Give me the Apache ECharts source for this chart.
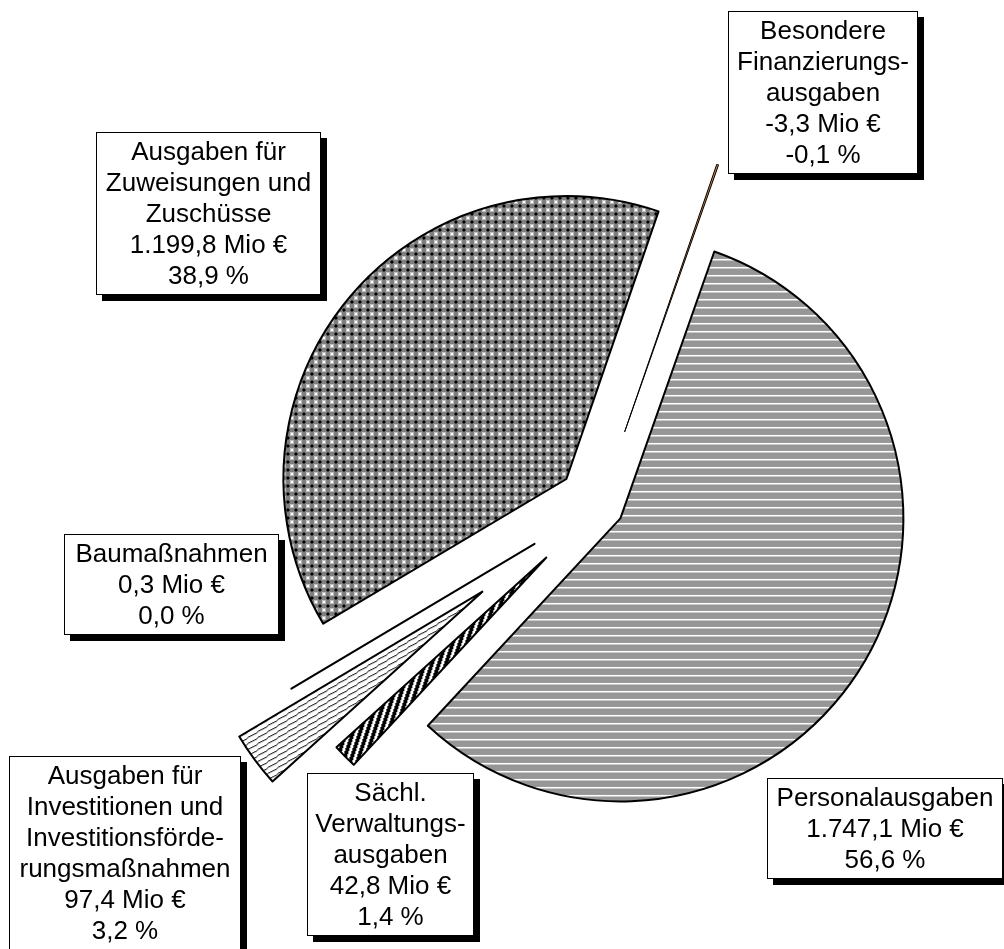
<!DOCTYPE html>
<html><head><meta charset="utf-8">
<script src="https://cdn.jsdelivr.net/npm/echarts/dist/echarts.min.js"></script>
<style>html,body{margin:0;padding:0;background:#fff}#c{width:1004px;height:949px}</style>
</head><body><div id="c"></div>
<script>
// ---- data ----
const categories = [
  'Besondere\nFinanzierungs-\nausgaben',
  'Personalausgaben',
  'Sächl.\nVerwaltungs-\nausgaben',
  'Ausgaben für\nInvestitionen und\nInvestitionsförde-\nrungsmaßnahmen',
  'Baumaßnahmen',
  'Ausgaben für\nZuweisungen und\nZuschüsse'
];
const valuesMio = [-3.3, 1747.1, 42.8, 97.4, 0.3, 1199.8];

// ---- layout (not data) ----
const explode = [78, 25, 74, 145, 75, 42];
const boxes = [
  {left: 729, top: 12,  w: 188},
  {left: 768, top: 779, w: 234},
  {left: 308, top: 774, w: 165},
  {left: 10,  top: 757, w: 230},
  {left: 65,  top: 535, w: 213},
  {left: 97,  top: 133, w: 223}
];

function tile(w, h, draw) {
  const c = document.createElement('canvas');
  c.width = w; c.height = h;
  const ctx = c.getContext('2d');
  draw(ctx);
  return c;
}
const patPersonal = tile(8, 8, ctx => {
  ctx.fillStyle = '#969696'; ctx.fillRect(0, 0, 8, 8);
  ctx.fillStyle = '#ffffff'; ctx.fillRect(0, 6, 8, 1);
  ctx.fillStyle = '#cfcfcf'; ctx.fillRect(0, 7, 8, 1);
});
const patZuw = tile(8, 8, ctx => {
  ctx.fillStyle = '#fff'; ctx.fillRect(0, 0, 8, 8);
  ctx.fillStyle = '#000';
  for (let y = 0; y < 8; y++) for (let x = 0; x < 8; x++) {
    let black = (x + y) % 2 === 0;
    if (x >= 3 && x <= 5 && y >= 3 && y <= 5) black = false;
    if ((x === 0 && (y === 1 || y === 7)) || (y === 0 && (x === 1 || x === 7))) black = true;
    if (black) ctx.fillRect(x, y, 1, 1);
  }
});
const patSaechl = tile(7, 21, ctx => {
  ctx.fillStyle = '#fff'; ctx.fillRect(0, 0, 7, 21);
  ctx.fillStyle = '#000';
  for (let y = 0; y < 21; y++) for (let x = 0; x < 7; x++) {
    if (((x + Math.floor(y / 3)) % 7) < 4) ctx.fillRect(x, y, 1, 1);
  }
});
const patInvest = tile(10, 6, ctx => {
  ctx.fillStyle = '#fff'; ctx.fillRect(0, 0, 10, 6);
  ctx.fillStyle = '#000';
  const wob = [0, 0.4, 0.6, 0.3, -0.2, -0.5, -0.3, 0.1, 0.4, 0.2];
  for (let x = 0; x < 10; x++) {
    const y = ((Math.round(5.5 - 0.6 * x + wob[x]) % 6) + 6) % 6;
    ctx.fillRect(x, y, 1, 1);
  }
});

const styles = [
  {color: '#D3823F', borderColor: '#000', borderWidth: 1},
  {color: {image: patPersonal, repeat: 'repeat'}, borderColor: '#000', borderWidth: 2},
  {color: {image: patSaechl, repeat: 'repeat'}, borderColor: '#000', borderWidth: 2},
  {color: {image: patInvest, repeat: 'repeat'}, borderColor: '#000', borderWidth: 2},
  {color: '#fff', borderColor: '#000', borderWidth: 2},
  {color: {image: patZuw, repeat: 'repeat'}, borderColor: '#000', borderWidth: 2}
];

const total = valuesMio.reduce((a, b) => a + b, 0);
function fmtNum(v) {
  const s = Math.abs(v).toFixed(1).split('.');
  const i = s[0].replace(/\B(?=(\d{3})+(?!\d))/g, '.');
  return (v < 0 ? '-' : '') + i + ',' + s[1];
}
function fmtPct(v) {
  return (v / total * 100).toFixed(1).replace('.', ',') + ' %';
}

const series = categories.map((_, k) => ({
  type: 'pie',
  center: [599, 505.5],
  radius: 283,
  startAngle: 71,
  clockwise: true,
  selectedMode: 'multiple',
  selectedOffset: explode[k],
  avoidLabelOverlap: false,
  label: {show: false},
  labelLine: {show: false},
  emphasis: {disabled: true},
  animation: false,
  z: 2 + k,
  data: categories.map((name, i) => ({
    name: name,
    value: Math.abs(valuesMio[i]),
    selected: i === k,
    itemStyle: i === k ? styles[i] : {color: 'rgba(0,0,0,0)', borderWidth: 0}
  }))
}));

const graphics = categories.map((name, i) => {
  const b = boxes[i];
  return {
    type: 'text',
    x: b.left + b.w / 2,
    y: b.top,
    z: 100,
    style: {
      text: name + '\n' + fmtNum(valuesMio[i]) + ' Mio €\n' + fmtPct(valuesMio[i]),
      font: '26px "Liberation Sans", Arial, sans-serif',
      fill: '#000',
      align: 'center',
      verticalAlign: 'top',
      lineHeight: 31,
      width: b.w - 8,
      overflow: 'none',
      padding: [4, 4, 2, 4],
      backgroundColor: '#fff',
      borderColor: '#000',
      borderWidth: 1,
      shadowColor: '#000',
      shadowBlur: 0,
      shadowOffsetX: 6,
      shadowOffsetY: 6
    }
  };
});

const chart = echarts.init(document.getElementById('c'), null, {renderer: 'canvas'});
chart.setOption({
  animation: false,
  backgroundColor: '#fff',
  series: series,
  graphic: graphics
});
</script>
</body></html>
